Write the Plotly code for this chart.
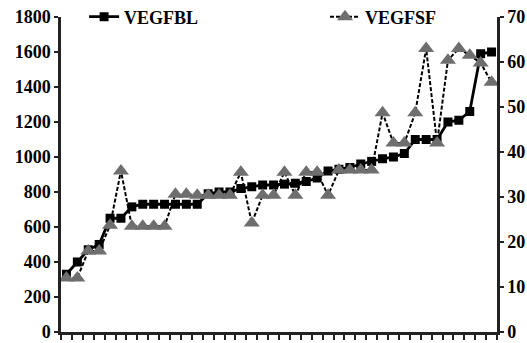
import plotly.graph_objects as go

samples = list(range(1, 41))
vegfbl = [330, 400, 470, 500, 650, 650, 715, 730, 730, 730, 730, 730,
          730, 790, 800, 800, 820, 830, 840, 840, 845, 850, 860, 880,
          920, 930, 940, 960, 975, 990, 1000, 1020, 1100, 1100, 1100, 1200,
          1210, 1260, 1590, 1600]
vegfsf = [12, 12, 18, 18, 23.7, 35.8, 23.5, 23.5, 23.5, 23.5, 30.6, 30.6,
          30.4, 30.4, 30.4, 30.4, 35.5, 24.2, 30.4, 30.4, 35.5, 30.4, 35.5, 35.5,
          30.4, 36, 36, 36, 36, 48.7, 42, 42, 48.7, 63, 42, 60.4,
          63, 61.5, 59.8, 55.5]
left_ticks = list(range(0, 1801, 200))
right_ticks = list(range(0, 71, 10))

FONT = dict(family="Liberation Serif", size=18, color="black", weight="bold")
AX = "#222222"

fig = go.Figure()
fig.add_trace(go.Scatter(
    x=samples, y=vegfbl, name="VEGFBL", mode="lines+markers",
    line=dict(color="black", width=2.8),
    marker=dict(symbol="square", size=9, color="black"),
    legend="legend",
))
fig.add_trace(go.Scatter(
    x=samples, y=vegfsf, name="VEGFSF", mode="lines+markers", yaxis="y2",
    line=dict(color="black", width=2, dash="4px,2px"),
    marker=dict(symbol="triangle-up", size=14, color="#6e6e6e"),
    legend="legend2",
))

LEG = dict(orientation="h", y=1.0, xanchor="left", yanchor="middle",
           font=FONT, bgcolor="rgba(0,0,0,0)", itemsizing="trace")

fig.update_layout(
    width=527, height=343,
    margin=dict(l=61, r=30, t=17, b=11, autoexpand=False),
    paper_bgcolor="white", plot_bgcolor="white",
    showlegend=True,
    legend=dict(LEG, x=0.053),
    legend2=dict(LEG, x=0.6055),
    xaxis=dict(range=[0.5, 40.5], tick0=0.5, dtick=1, showticklabels=False,
               ticks="outside", ticklen=5, tickwidth=2, tickcolor=AX,
               showline=True, linewidth=2.5, linecolor=AX, showgrid=False,
               zeroline=False),
    yaxis=dict(range=[0, 1800], tickvals=left_ticks, ticks="outside", ticklen=4,
               tickwidth=2, tickcolor=AX, showline=True, linewidth=2.5,
               linecolor=AX, showgrid=False, zeroline=False, tickfont=FONT),
    yaxis2=dict(range=[0, 70], tickvals=right_ticks, overlaying="y", side="right",
                ticks="outside", ticklen=4, tickwidth=2, tickcolor=AX,
                showline=True, linewidth=2.5, linecolor=AX, showgrid=False,
                zeroline=False, tickfont=FONT),
)

fig.write_html("out.html")
